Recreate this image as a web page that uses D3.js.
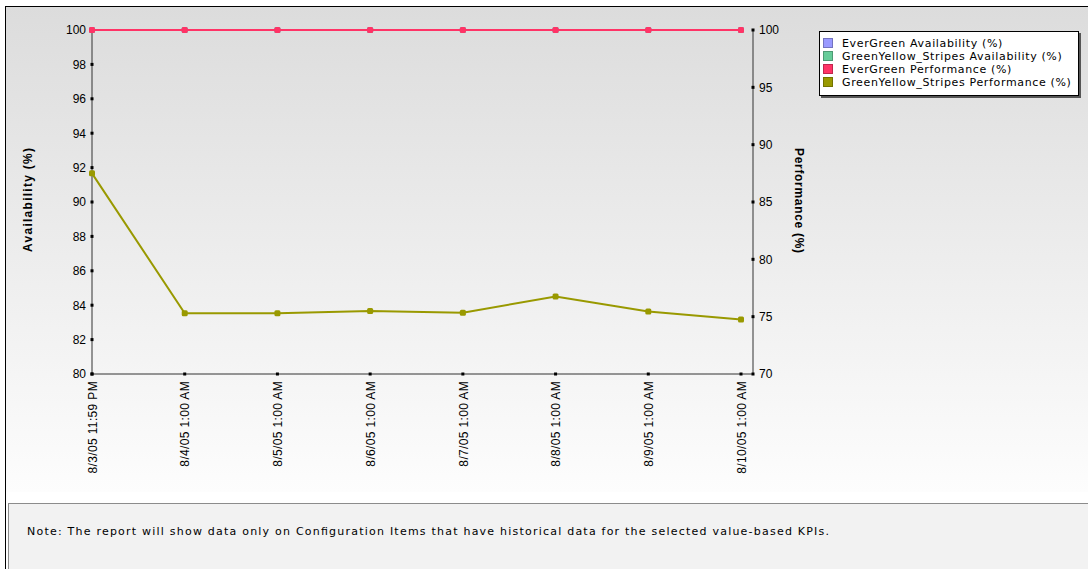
<!DOCTYPE html>
<html>
<head>
<meta charset="utf-8">
<script src="https://cdn.jsdelivr.net/npm/d3@7"></script>
<style>
  body { margin: 0; background: #fff; }
  svg { display: block; }
  .tick text { font-family: 'Liberation Sans', Arial, sans-serif; font-size: 12px; fill: #000; }
</style>
</head>
<body>
<script>
// Data
const categories = [
  '8/3/05 11:59 PM', '8/4/05 1:00 AM', '8/5/05 1:00 AM', '8/6/05 1:00 AM',
  '8/7/05 1:00 AM', '8/8/05 1:00 AM', '8/9/05 1:00 AM', '8/10/05 1:00 AM'
];
const seriesNames = [
  'EverGreen Availability (%)',
  'GreenYellow_Stripes Availability (%)',
  'EverGreen Performance (%)',
  'GreenYellow_Stripes Performance (%)'
];
const seriesColors = ['#9999ff', '#66cc99', '#ff3366', '#999900'];
const everGreenAvailability     = [100, 100, 100, 100, 100, 100, 100, 100];
const greenYellowAvailability   = [100, 100, 100, 100, 100, 100, 100, 100];
const everGreenPerformance      = [100, 100, 100, 100, 100, 100, 100, 100];
const greenYellowPerformance    = [87.5, 75.3, 75.3, 75.5, 75.35, 76.75, 75.45, 74.75];
const availabilityTicks = [80, 82, 84, 86, 88, 90, 92, 94, 96, 98, 100];
const performanceTicks  = [70, 75, 80, 85, 90, 95, 100];
const noteText = 'Note: The report will show data only on Configuration Items that have historical data for the selected value-based KPIs.';

// Globals
var svg, chart;
var x, yLeft, yRight;

{
  const width = 1088, height = 569;
  const plotLeft = 92, plotRight = 753, plotTop = 30, plotBottom = 374;

  svg = d3.select('body').append('svg')
      .attr('width', width)
      .attr('height', height);

  const defs = svg.append('defs');
  const grad = defs.append('linearGradient')
      .attr('id', 'bg')
      .attr('x1', 0).attr('y1', 0).attr('x2', 0).attr('y2', 1);
  grad.append('stop').attr('offset', '0%').attr('stop-color', '#dcdcdc');
  grad.append('stop').attr('offset', '100%').attr('stop-color', '#fdfdfd');

  // chart background + frame
  svg.append('rect')
      .attr('x', 5).attr('y', 6)
      .attr('width', width - 5).attr('height', 486)
      .attr('fill', 'url(#bg)');
  svg.append('line')
      .attr('x1', 5).attr('x2', width).attr('y1', 6.5).attr('y2', 6.5)
      .attr('stroke', '#000');
  svg.append('line')
      .attr('x1', 5.5).attr('x2', 5.5).attr('y1', 6).attr('y2', height)
      .attr('stroke', '#000');

  // note panel
  svg.append('rect')
      .attr('x', 8.5).attr('y', 503.5)
      .attr('width', width).attr('height', 80)
      .attr('fill', '#f2f2f2')
      .attr('stroke', '#8c8c8c');
  svg.append('text')
      .attr('x', 27).attr('y', 535)
      .attr('textLength', 802)
      .attr('lengthAdjust', 'spacing')
      .style('font-family', "'DejaVu Sans', Verdana, sans-serif")
      .style('font-size', '11px')
      .attr('fill', '#000')
      .text(noteText);

  // scales
  x = d3.scaleLinear()
      .domain([0, categories.length - 1])
      .range([plotLeft, 741]);
  yLeft = d3.scaleLinear()
      .domain([80, 100])
      .range([plotBottom, plotTop]);
  yRight = d3.scaleLinear()
      .domain([70, 100])
      .range([plotBottom, plotTop]);

  chart = svg.append('g');

  // axes
  const leftAxis = chart.append('g')
      .attr('transform', 'translate(' + plotLeft + ',0)')
      .call(d3.axisLeft(yLeft).tickValues(availabilityTicks).tickSize(0).tickPadding(6));
  leftAxis.select('.domain').remove();

  const rightAxis = chart.append('g')
      .attr('transform', 'translate(' + plotRight + ',0)')
      .call(d3.axisRight(yRight).tickValues(performanceTicks).tickSize(0).tickPadding(6));
  rightAxis.select('.domain').remove();

  const bottomAxis = chart.append('g')
      .attr('transform', 'translate(0,' + plotBottom + ')')
      .call(d3.axisBottom(x)
        .tickValues(d3.range(categories.length))
        .tickFormat(function(i) { return categories[i]; })
        .tickSize(0));
  bottomAxis.select('.domain').remove();
  bottomAxis.selectAll('text')
      .attr('x', -7)
      .attr('y', 0)
      .attr('dy', '0.35em')
      .attr('transform', 'rotate(-90)')
      .style('letter-spacing', '0.35px')
      .style('text-anchor', 'end');

  chart.append('path')
      .attr('d', `M ${plotLeft} ${yLeft(100)} L ${plotLeft} ${plotBottom} L ${plotRight} ${plotBottom} L ${plotRight} ${yRight(100)}`)
      .attr('fill', 'none')
      .attr('stroke', '#333')
      .attr('stroke-width', 1);

  // tick squares
  const sq = 3;
  chart.append('g').selectAll('rect')
      .data(availabilityTicks)
      .join('rect')
      .attr('x', plotLeft - sq / 2).attr('y', function(d) { return yLeft(d) - sq / 2; })
      .attr('width', sq).attr('height', sq).attr('fill', '#000');
  chart.append('g').selectAll('rect')
      .data(performanceTicks)
      .join('rect')
      .attr('x', plotRight - sq / 2).attr('y', function(d) { return yRight(d) - sq / 2; })
      .attr('width', sq).attr('height', sq).attr('fill', '#000');
  chart.append('g').selectAll('rect')
      .data(d3.range(categories.length))
      .join('rect')
      .attr('x', function(d) { return x(d) - sq / 2; }).attr('y', plotBottom - sq / 2)
      .attr('width', sq).attr('height', sq).attr('fill', '#000');

  // axis titles
  chart.append('text')
      .attr('transform', 'translate(32,200) rotate(-90)')
      .attr('x', -52)
      .attr('textLength', 104)
      .attr('lengthAdjust', 'spacing')
      .style('font-family', "'Liberation Sans', Arial, sans-serif")
      .style('font-size', '12px')
      .style('font-weight', 'bold')
      .text('Availability (%)');
  chart.append('text')
      .attr('transform', 'translate(795,148) rotate(90)')
      .attr('textLength', 105)
      .attr('lengthAdjust', 'spacing')
      .style('font-family', "'Liberation Sans', Arial, sans-serif")
      .style('font-size', '12px')
      .style('font-weight', 'bold')
      .text('Performance (%)');

  // series
  const series = [
    {values: everGreenAvailability,   y: yLeft,  color: seriesColors[0]},
    {values: greenYellowAvailability, y: yLeft,  color: seriesColors[1]},
    {values: everGreenPerformance,    y: yRight, color: seriesColors[2]},
    {values: greenYellowPerformance,  y: yRight, color: seriesColors[3]}
  ];

  series.forEach(function(s) {
    const line = d3.line()
        .x(function(d, i) { return x(i); })
        .y(function(d) { return s.y(d); });
    chart.append('path')
        .datum(s.values)
        .attr('d', line)
        .attr('fill', 'none')
        .attr('stroke', s.color)
        .attr('stroke-width', 2);
    chart.append('g').selectAll('rect')
        .data(s.values)
        .join('rect')
        .attr('x', function(d, i) { return x(i) - 3; })
        .attr('y', function(d) { return s.y(d) - 3; })
        .attr('width', 6).attr('height', 6)
        .attr('rx', 1.5)
        .attr('fill', s.color);
  });

  // legend
  const legend = svg.append('g').attr('transform', 'translate(819,31)');
  legend.append('rect')
      .attr('x', 2).attr('y', 2).attr('width', 260).attr('height', 65)
      .attr('fill', '#555');
  legend.append('rect')
      .attr('x', 0.5).attr('y', 0.5).attr('width', 259).attr('height', 64)
      .attr('fill', '#fff').attr('stroke', '#000');
  const items = legend.selectAll('g.item')
      .data(seriesNames)
      .join('g')
      .attr('class', 'item')
      .attr('transform', function(d, i) { return 'translate(4,' + (7 + i * 13) + ')'; });
  items.append('rect')
      .attr('x', 0.5).attr('y', 0.5).attr('width', 9).attr('height', 9)
      .attr('fill', function(d, i) { return seriesColors[i]; })
      .attr('stroke', function(d, i) { return d3.color(seriesColors[i]).darker(0.8); })
      .attr('stroke-width', 1);
  items.append('text')
      .attr('x', 19).attr('y', 9)
      .style('font-family', "'DejaVu Sans', Verdana, sans-serif")
      .style('font-size', '11px')
      .style('letter-spacing', '0.65px')
      .text(function(d) { return d; });
}
</script>
</body>
</html>
